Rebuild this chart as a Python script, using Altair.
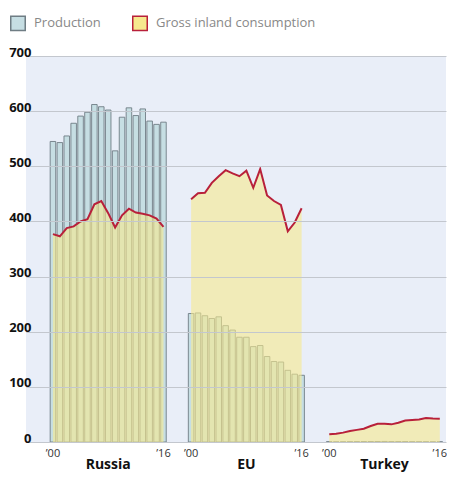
import altair as alt
import pandas as pd

years = [str(y) for y in range(2000, 2017)]
countries = ["Russia", "EU", "Turkey"]

russia_production = [545, 543, 555, 578, 591, 598, 612, 608, 602, 528, 589, 606, 592, 604, 582, 576, 580]
russia_consumption = [377, 373, 388, 391, 400, 404, 431, 437, 415, 389, 411, 423, 416, 414, 411, 405, 390]
eu_production = [233, 234, 229, 224, 227, 211, 203, 190, 190, 173, 175, 155, 146, 145, 130, 123, 121]
eu_consumption = [440, 451, 452, 470, 482, 493, 487, 482, 492, 461, 495, 447, 437, 430, 382, 398, 424]
turkey_production = [0.6, 0.3, 0.4, 0.6, 0.7, 0.9, 0.9, 0.9, 1.0, 0.7, 0.7, 0.8, 0.6, 0.5, 0.5, 0.4, 0.4]
turkey_consumption = [14, 15, 17, 20, 22, 24, 29, 33, 33, 32, 35, 39, 40, 41, 43.5, 42.5, 42]

series_names = ["Production", "Gross inland consumption"]
fill_colors = ["#c6dee3", "#f6e98e"]
stroke_colors = ["#6f7d84", "#b8203a"]
y_ticks = [0, 100, 200, 300, 400, 500, 600, 700]

prod = {"Russia": russia_production, "EU": eu_production, "Turkey": turkey_production}
cons = {"Russia": russia_consumption, "EU": eu_consumption, "Turkey": turkey_consumption}

rows = []
x_domain = []
for i, c in enumerate(countries):
    # empty slots that separate the three groups
    x_domain += [f"gap{i}_{k}" for k in range(3)]
    for y, p, g in zip(years, prod[c], cons[c]):
        key = c + y
        x_domain.append(key)
        rows.append({"country": c, "key": key, "production": p, "consumption": g})
df = pd.DataFrame(rows)

labels_df = pd.DataFrame({"country": countries, "key": [c + "2008" for c in countries]})
end_keys = [c + y for c in countries for y in ("2000", "2016")]

FONT = "Open Sans"
PLOT_W = 420
PLOT_H = 386

fill_scale = alt.Scale(domain=series_names, range=fill_colors)
stroke_scale = alt.Scale(domain=series_names, range=stroke_colors)
y_scale = alt.Scale(domain=[0, 700], nice=False, zero=True)
x_scale = alt.Scale(domain=x_domain, paddingInner=0.2, paddingOuter=0.5)

x_enc = alt.X(
    "key:O",
    scale=x_scale,
    axis=alt.Axis(
        values=end_keys,
        labelExpr="'\u2019' + slice(datum.label, -2)",
        labelAngle=0,
        labelFontSize=11,
        labelColor="#333333",
        labelFont=FONT,
        labelPadding=5,
        ticks=False,
        domain=False,
        title=None,
    ),
)

y_axis = alt.Axis(
    values=y_ticks,
    labelFont=FONT,
    labelFontSize=13,
    labelFontWeight="bold",
    labelColor="#111111",
    labelPadding=-5,
    labelBaseline="alphabetic",
    ticks=False,
    domain=False,
    grid=True,
    gridColor="#c3c7ce",
    title=None,
    zindex=1,
)

base = alt.Chart(df)

bars = base.transform_calculate(series="'Production'").mark_bar(strokeWidth=0.9).encode(
    x=x_enc,
    y=alt.Y("production:Q", scale=y_scale, axis=y_axis),
    fill=alt.Fill("series:N", scale=fill_scale, legend=alt.Legend(title=None)),
    stroke=alt.Stroke("series:N", scale=stroke_scale, legend=alt.Legend(title=None)),
)

area = base.transform_calculate(series="'Gross inland consumption'").mark_area(
    fillOpacity=0.6
).encode(
    x=x_enc,
    y=alt.Y("consumption:Q", scale=y_scale, stack=None),
    fill=alt.Fill("series:N", scale=fill_scale),
    detail="country:N",
)

line = base.transform_calculate(series="'Gross inland consumption'").mark_line(strokeWidth=2).encode(
    x=x_enc,
    y=alt.Y("consumption:Q", scale=y_scale, stack=None),
    stroke=alt.Stroke("series:N", scale=stroke_scale),
    detail="country:N",
)

country_labels = alt.Chart(labels_df).mark_text(
    font=FONT, fontSize=14, fontWeight="bold", color="#111111", baseline="alphabetic", align="center"
).encode(
    x=alt.X("key:O", scale=x_scale),
    y=alt.value(PLOT_H + 27),
    text="country:N",
)

chart = alt.layer(bars, area, line, country_labels).properties(
    width=PLOT_W,
    height=PLOT_H,
    padding={"left": 0, "top": 7, "right": 0, "bottom": 0},
).configure_view(
    fill="#e9eef8", strokeWidth=0
).configure_legend(
    orient="none",
    legendX=-16,
    legendY=-41,
    direction="horizontal",
    labelFont=FONT,
    labelFontSize=13,
    labelColor="#888888",
    symbolType="square",
    symbolSize=210,
    symbolStrokeWidth=1.5,
    symbolOpacity=1,
    columnPadding=28,
    labelOffset=8,
    padding=0,
)

chart.save("out.html", embed_options={"renderer": "svg", "actions": False})
